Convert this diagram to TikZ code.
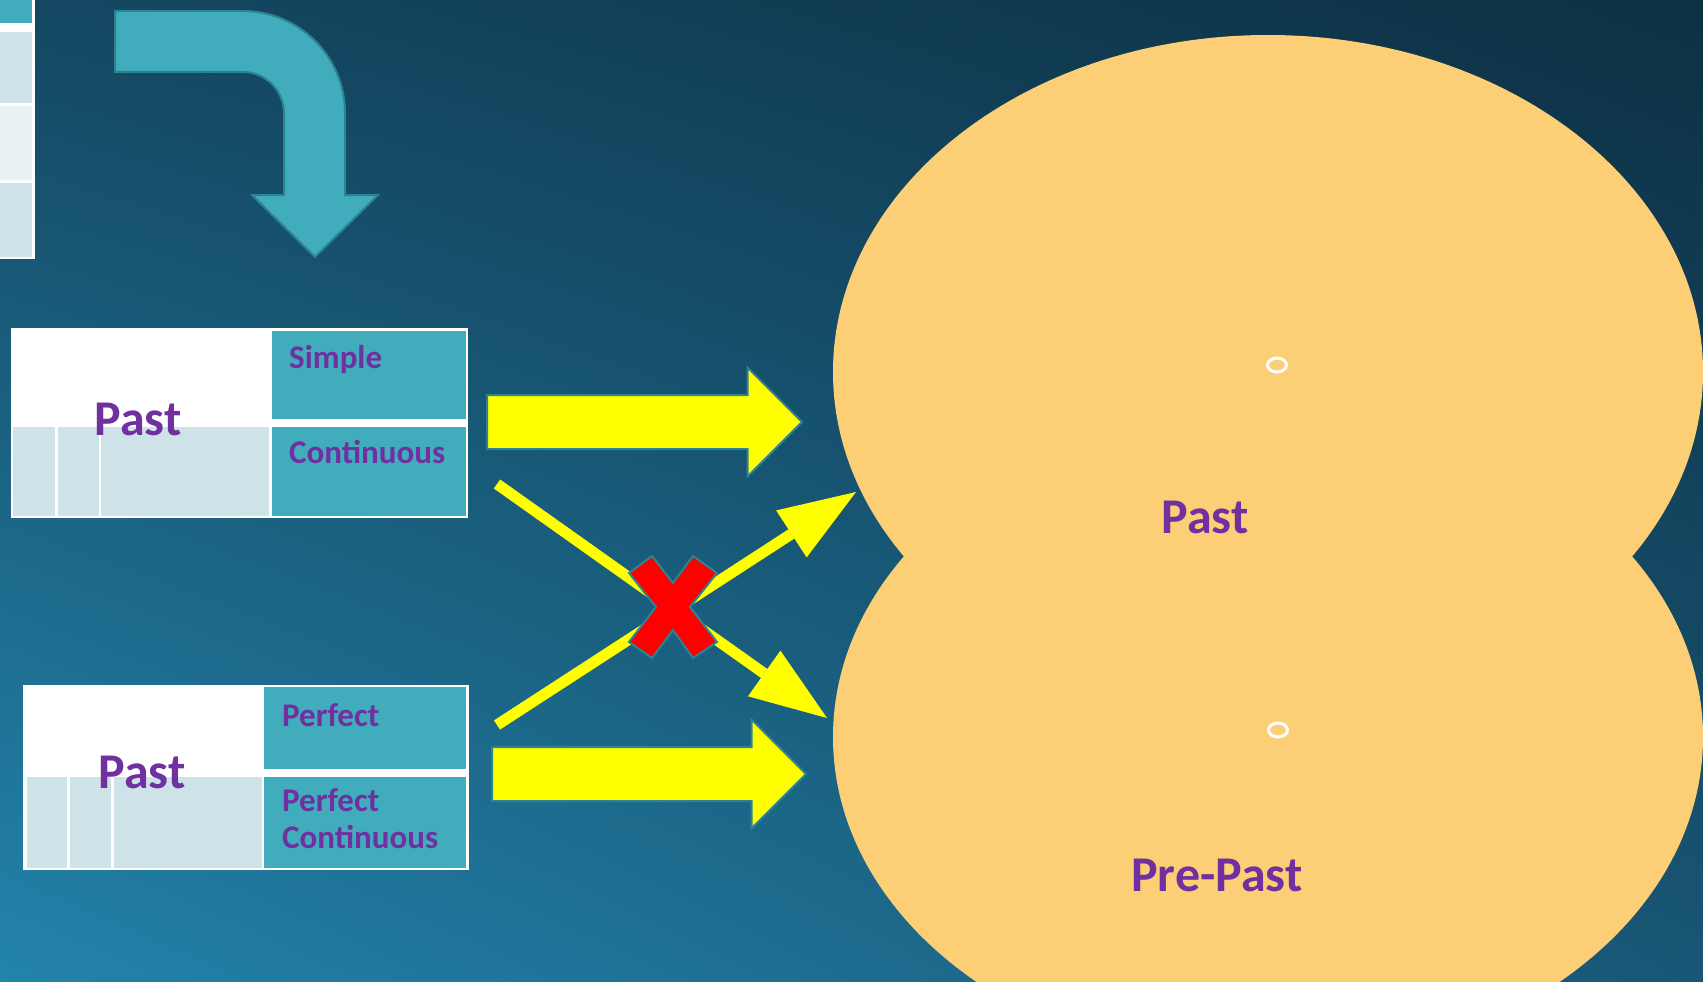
\documentclass[tikz,border=0pt]{standalone}
\usepackage{fontspec}
\setmainfont{Carlito}
\usepackage{tikz}
\definecolor{lila}{RGB}{112,48,160}
\definecolor{tuerkis}{RGB}{64,172,188}
\definecolor{tuerkisrand}{RGB}{44,132,146}
\definecolor{hellblau}{RGB}{205,227,232}
\definecolor{ganzhell}{RGB}{232,241,244}
\definecolor{sand}{RGB}{252,207,118}
\definecolor{gelb}{RGB}{255,255,0}
\definecolor{rot}{RGB}{255,0,0}
\definecolor{hgol}{RGB}{20,72,98}
\definecolor{hgor}{RGB}{13,48,67}
\definecolor{hgul}{RGB}{35,131,171}
\definecolor{hgur}{RGB}{24,86,117}
\usetikzlibrary{shapes.geometric, shapes.arrows, arrows.meta, shadings}

\begin{document}
\begin{tikzpicture}[x=1pt, y=-1pt,
			rahmen/.style={fill=white, inner sep=0pt, anchor=north west},
			blob/.style={ellipse, fill=sand, inner sep=0pt},
			ring/.style={ellipse, draw=white, line width=3pt, minimum width=19pt, minimum height=14pt, inner sep=0pt},
			gross/.style={text=lila, font=\bfseries\fontsize{50}{60}\selectfont, anchor=base, inner sep=0pt},
			klein/.style={text=lila, font=\bfseries\fontsize{33}{37}\selectfont, anchor=base west, align=left, inner sep=0pt},
			blockpfeil/.style={single arrow, fill=gelb, draw=tuerkisrand, line width=2pt, inner xsep=0pt, inner ysep=26pt,
				single arrow head extend=27.5pt, minimum height=315pt, anchor=tail},
			duennpfeil/.style={gelb, line width=11pt, -{Triangle[length=77pt, width=56pt, line width=0pt]}}]
			%Hintergrund
			\useasboundingbox (0,0) rectangle (1703,982);
			\clip (0,0) rectangle (1703,982);
			\shade[upper left=hgol, upper right=hgor, lower left=hgul, lower right=hgur] (0,0) rectangle (1703,982);
			% Tabellenrest oben links
			\fill[white] (0,0) rectangle (35,259);
			\fill[tuerkis] (0,0) rectangle (32,23);
			\fill[hellblau] (0,32) rectangle (32,103);
			\fill[ganzhell] (0,106) rectangle (32,180);
			\fill[hellblau] (0,183) rectangle (32,257);
			% gebogener Pfeil
			\draw[fill=tuerkis, draw=tuerkisrand, line width=2pt] (115,11) -- (243,11)
				.. controls (299.3,11) and (345,56.7) .. (345,113) -- (345,195) -- (378,195) -- (315,257)
				-- (252,195) -- (284,195) -- (284,113) .. controls (284,90.4) and (265.6,72) .. (243,72)
				-- (115,72) -- cycle;
			% Ellipsen
			\node[blob, minimum width=870pt, minimum height=674pt] (oben) at (1268,372) {};
			\node[blob, minimum width=870pt, minimum height=660pt] (unten) at (1268,737) {};
			\node[ring] (ring-oben) at (1277,365) {};
			\node[ring] (ring-unten) at (1278,730) {};
			\node[gross] (past-oben) at (1205,533) {Past};
			\node[gross] (prepast) at (1217,891) {Pre-Past};
			% Tabelle 1
			\node[rahmen, minimum width=457pt, minimum height=190pt] (tab1) at (11,328) {};
			\fill[tuerkis] (272,331) rectangle (466,419);
			\fill[tuerkis] (272,427) rectangle (466,516);
			\foreach \xa/\xb in {13/55, 58/99, 101/269}
				\fill[hellblau] (\xa,427) rectangle (\xb,516);
			\node[gross] (past1) at (138,435) {Past};
			\node[klein] (simple) at (289,368) {Simple};
			\node[klein] (cont) at (289,463) {Continuous};
			% Tabelle 2
			\node[rahmen, minimum width=446pt, minimum height=185pt] (tab2) at (23,685) {};
			\fill[tuerkis] (264,687) rectangle (466,769);
			\fill[tuerkis] (264,777) rectangle (466,868);
			\foreach \xa/\xb in {27/67, 70/111, 114/262}
				\fill[hellblau] (\xa,777) rectangle (\xb,868);
			\node[gross] (past2) at (142,788) {Past};
			\node[klein] (perf) at (282,726) {Perfect};
			\node[klein] (perfcont) at (282,848) {Perfect\\Continuous};
			% Pfeile
			\node[blockpfeil] (pfeil1) at (486,422) {};
			\node[blockpfeil, minimum height=314pt] (pfeil2) at (491,774) {};
			\coordinate (a-start) at (497,484);
			\coordinate (a-ziel) at (827,718);
			\coordinate (b-start) at (497,725);
			\coordinate (b-ziel) at (856,492);
			\draw[duennpfeil] (a-start) -- (a-ziel);
			\draw[duennpfeil] (b-start) -- (b-ziel);
			% Kreuz
			\draw[fill=rot, draw=tuerkisrand, line width=2pt] (673,583) -- (693,556) -- (717,573) -- (690,607)
				-- (717,642) -- (693,658) -- (673,630) -- (652,658) -- (629,642) -- (656,607)
				-- (629,573) -- (652,556) -- cycle;
		\end{tikzpicture}
\end{document}
